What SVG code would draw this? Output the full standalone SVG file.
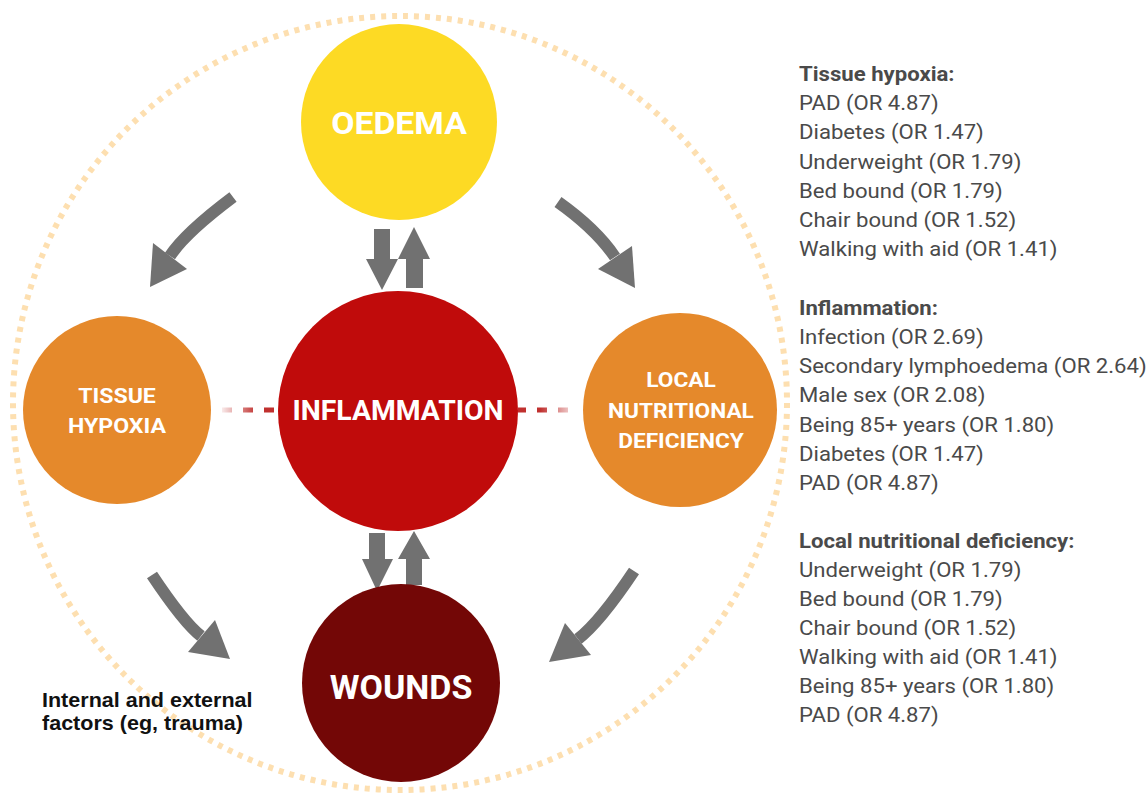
<svg xmlns="http://www.w3.org/2000/svg" width="1148" height="794" viewBox="0 0 1148 794">
<defs>
<style>
.lbl{font-family:Roboto,"Liberation Sans",sans-serif;font-weight:700;fill:#fff;text-anchor:middle}
.side{font-family:Roboto,"Liberation Sans",sans-serif;font-size:20.5px;fill:#4a4a4a}
.side .h{font-weight:700}
.shaft{fill:none;stroke:#717171;stroke-width:12}
.head{fill:#717171}
</style>
<linearGradient id="fadeL" x1="222" y1="0" x2="280" y2="0" gradientUnits="userSpaceOnUse">
<stop offset="0" stop-color="#c0302e" stop-opacity="0.1"/>
<stop offset="0.6" stop-color="#c0302e" stop-opacity="1"/>
</linearGradient>
<linearGradient id="fadeR" x1="576" y1="0" x2="516" y2="0" gradientUnits="userSpaceOnUse">
<stop offset="0" stop-color="#c0302e" stop-opacity="0.1"/>
<stop offset="0.6" stop-color="#c0302e" stop-opacity="1"/>
</linearGradient>
</defs>
<rect width="1148" height="794" fill="#fff"/>
<circle id="boundary" cx="400" cy="403" r="387" fill="none" stroke="#fddfb0" stroke-width="6" stroke-dasharray="5 6"/>

<g id="connectors">
<path class="shaft" d="M233,197 Q185,233 170,256"/>
<polygon class="head" points="153,243 187,269 150,287"/>
<path class="shaft" d="M558,202 Q596,229 615,257"/>
<polygon class="head" points="598,269 632,246 635,288"/>
<path class="shaft" d="M152,575 Q184,623 201,636"/>
<polygon class="head" points="188,652 215,620 230,659"/>
<path class="shaft" d="M634,571 Q600,622 578,639"/>
<polygon class="head" points="565,623 591,655 549,662"/>
<polygon class="head" points="374,229 390,229 390,259 398,259 382,290 366,259 374,259"/>
<polygon class="head" points="406,288 423,288 423,259 430,259 414,227 398,259 406,259"/>
<polygon class="head" points="369,533 385,533 385,559 393,559 377,591 362,559 369,559"/>
<polygon class="head" points="406,585 422,585 422,559 430,559 414,531 398,559 406,559"/>
<line x1="222" y1="410" x2="280" y2="410" stroke="url(#fadeL)" stroke-width="5" stroke-dasharray="10 11"/>
<line x1="518" y1="410" x2="576" y2="410" stroke="url(#fadeR)" stroke-width="5" stroke-dasharray="10 11" stroke-dashoffset="2"/>
</g>

<g id="oedema">
<circle cx="399" cy="122" r="98" fill="#fdda24"/>
<text class="lbl" x="399" y="134" font-size="32" transform="matrix(1.055,0,0,1,-21.9,0)">OEDEMA</text>
</g>
<g id="tissue-hypoxia">
<circle cx="117" cy="410" r="94" fill="#e5892b"/>
<g transform="matrix(1.1,0,0,1,-11.7,0)">
<text class="lbl" x="117" y="403" font-size="21">TISSUE</text>
<text class="lbl" x="117" y="433" font-size="21">HYPOXIA</text>
</g>
</g>
<g id="inflammation">
<circle cx="398" cy="411" r="120" fill="#c00b0b"/>
<text class="lbl" x="398" y="420" font-size="27" transform="matrix(1.05,0,0,1,-19.9,0)">INFLAMMATION</text>
</g>
<g id="local-nutritional-deficiency">
<circle cx="680" cy="410" r="97" fill="#e5892b"/>
<g transform="matrix(1.08,0,0,1,-54.48,0)">
<text class="lbl" x="681" y="387" font-size="21">LOCAL</text>
<text class="lbl" x="681" y="418" font-size="21">NUTRITIONAL</text>
<text class="lbl" x="681" y="448" font-size="21">DEFICIENCY</text>
</g>
</g>
<g id="wounds">
<circle cx="401" cy="683" r="99" fill="#730706"/>
<text class="lbl" x="401" y="699" font-size="34">WOUNDS</text>
</g>

<g id="factors">
<text font-family="'Liberation Sans',Arial,sans-serif" font-weight="700" font-size="19.5" fill="#111" transform="matrix(1.105,0,0,1,-4.41,0)">
<tspan x="42" y="707">Internal and external</tspan>
<tspan x="42" y="730">factors (eg, trauma)</tspan>
</text>
</g>

<g id="risk-list">
<text class="side" transform="matrix(1.08,0,0,1,-63.92,0)">
<tspan class="h" x="799" y="81">Tissue hypoxia:</tspan>
<tspan x="799" y="110">PAD (OR 4.87)</tspan>
<tspan x="799" y="139.3">Diabetes (OR 1.47)</tspan>
<tspan x="799" y="168.6">Underweight (OR 1.79)</tspan>
<tspan x="799" y="197.9">Bed bound (OR 1.79)</tspan>
<tspan x="799" y="227.2">Chair bound (OR 1.52)</tspan>
<tspan x="799" y="256.5">Walking with aid (OR 1.41)</tspan>
<tspan class="h" x="799" y="315">Inflammation:</tspan>
<tspan x="799" y="344">Infection (OR 2.69)</tspan>
<tspan x="799" y="373.2">Secondary lymphoedema (OR 2.64)</tspan>
<tspan x="799" y="402.4">Male sex (OR 2.08)</tspan>
<tspan x="799" y="431.6">Being 85+ years (OR 1.80)</tspan>
<tspan x="799" y="460.8">Diabetes (OR 1.47)</tspan>
<tspan x="799" y="490">PAD (OR 4.87)</tspan>
<tspan class="h" x="799" y="548">Local nutritional deficiency:</tspan>
<tspan x="799" y="577">Underweight (OR 1.79)</tspan>
<tspan x="799" y="606">Bed bound (OR 1.79)</tspan>
<tspan x="799" y="635">Chair bound (OR 1.52)</tspan>
<tspan x="799" y="664">Walking with aid (OR 1.41)</tspan>
<tspan x="799" y="693">Being 85+ years (OR 1.80)</tspan>
<tspan x="799" y="722">PAD (OR 4.87)</tspan>
</text>
</g>
</svg>
